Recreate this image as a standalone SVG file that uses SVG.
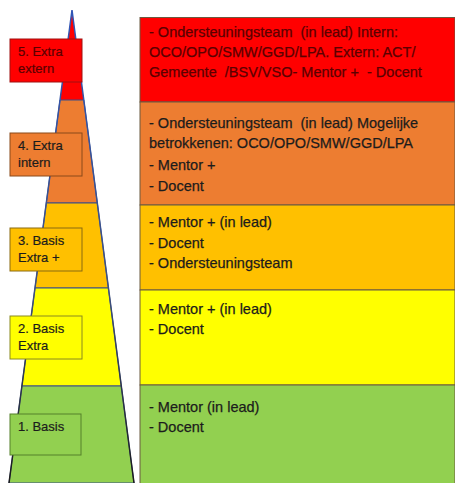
<svg xmlns="http://www.w3.org/2000/svg" width="455" height="483" viewBox="0 0 455 483">
<style>
.t{font-family:"Liberation Sans",Arial,sans-serif;font-size:14.5px;fill:#1c1c1c;stroke:#1c1c1c;stroke-width:0.25;white-space:pre}
.l{font-family:"Liberation Sans",Arial,sans-serif;font-size:13px;fill:#1c1c1c;stroke:#1c1c1c;stroke-width:0.2}
.tr{fill:#5a0000;stroke:#5a0000}
.band{stroke:#3b4f8a;stroke-width:1}
.row{stroke:#6b5a40;stroke-width:1}
</style>
<defs>
<linearGradient id="edge" x1="0" y1="0" x2="0" y2="1">
<stop offset="0" stop-color="#2f56b8"/>
<stop offset="0.6" stop-color="#3d4f80"/>
<stop offset="1" stop-color="#1a1a1a"/>
</linearGradient>
</defs>
<rect width="455" height="483" fill="#fff"/>
<g id="pyramid">
<polygon points="72,10 60,100 83.8,100" fill="#ff0000"/>
<polygon points="60,100 46.3,203 97.3,203 83.8,100" fill="#ed7d31" class="band"/>
<polygon points="46.3,203 35,288 108.4,288 97.3,203" fill="#ffc000" class="band"/>
<polygon points="35,288 21.9,386 121.3,386 108.4,288" fill="#ffff00" class="band"/>
<polygon points="21.9,386 9,483 134,483 121.3,386" fill="#92d050" class="band"/>
<polyline points="9,483 72,10 134,483" fill="none" stroke="url(#edge)" stroke-width="1.5"/>
</g>
<g id="panel">
<g id="row5">
<rect x="140" y="17.5" width="315" height="84.5" fill="#ff0000" class="row"/>
<text class="t tr" x="149" y="37">- Ondersteuningsteam  (in lead) Intern:</text>
<text class="t tr" x="149" y="57">OCO/OPO/SMW/GGD/LPA. Extern: ACT/</text>
<text class="t tr" x="149" y="77">Gemeente  /BSV/VSO- Mentor +  - Docent</text>
</g>
<g id="row4">
<rect x="140" y="102" width="315" height="103" fill="#ed7d31" class="row"/>
<text class="t" x="149" y="128">- Ondersteuningsteam  (in lead) Mogelijke</text>
<text class="t" x="149" y="148">betrokkenen: OCO/OPO/SMW/GGD/LPA</text>
<text class="t" x="149" y="170">- Mentor +</text>
<text class="t" x="149" y="191">- Docent</text>
</g>
<g id="row3">
<rect x="140" y="205" width="315" height="85" fill="#ffc000" class="row"/>
<text class="t" x="149" y="227">- Mentor + (in lead)</text>
<text class="t" x="149" y="248">- Docent</text>
<text class="t" x="149" y="268">- Ondersteuningsteam</text>
</g>
<g id="row2">
<rect x="140" y="290" width="315" height="95" fill="#ffff00" class="row"/>
<text class="t" x="149" y="314">- Mentor + (in lead)</text>
<text class="t" x="149" y="334">- Docent</text>
</g>
<g id="row1">
<rect x="140" y="385" width="315" height="99" fill="#92d050" class="row"/>
<text class="t" x="149" y="412">- Mentor (in lead)</text>
<text class="t" x="149" y="432">- Docent</text>
</g>
</g>
<g id="label5">
<rect x="10" y="39" width="72" height="43" fill="#ff0000" stroke="#a01010" stroke-width="1"/>
<text class="l tr" x="18" y="56">5. Extra</text>
<text class="l tr" x="18" y="73">extern</text>
</g>
<g id="label4">
<rect x="10" y="133" width="72" height="43" fill="#ed7d31" stroke="#8a4a1a" stroke-width="1"/>
<text class="l" x="18" y="150">4. Extra</text>
<text class="l" x="18" y="167">intern</text>
</g>
<g id="label3">
<rect x="10" y="228" width="72" height="43" fill="#ffc000" stroke="#8a6a10" stroke-width="1"/>
<text class="l" x="18" y="245">3. Basis</text>
<text class="l" x="18" y="262">Extra +</text>
</g>
<g id="label2">
<rect x="10" y="316" width="72" height="43" fill="#ffff00" stroke="#8a8a20" stroke-width="1"/>
<text class="l" x="18" y="333">2. Basis</text>
<text class="l" x="18" y="350">Extra</text>
</g>
<g id="label1">
<rect x="10" y="414" width="71" height="41" fill="#92d050" stroke="#55802a" stroke-width="1"/>
<text class="l" x="18" y="431">1. Basis</text>
</g>
</svg>
